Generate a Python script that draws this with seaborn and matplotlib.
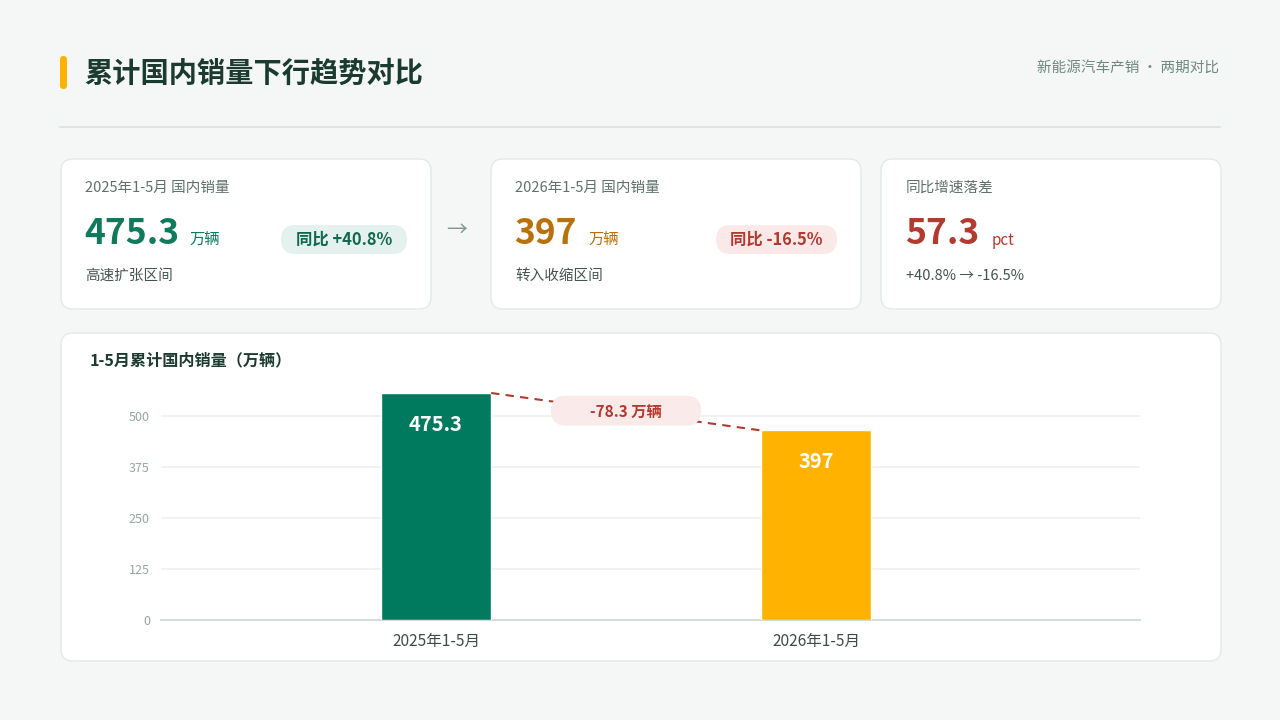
import numpy as np
import pandas as pd
import matplotlib as mpl
import matplotlib.pyplot as plt
import matplotlib.transforms as mtransforms
from matplotlib.patches import FancyBboxPatch
import seaborn as sns

sns.set_theme(style='white')
plt.rcParams['font.family'] = ['Noto Sans CJK SC', 'DejaVu Sans']

# data
periods = ['2025年1-5月', '2026年1-5月']
sales = [475.3, 397]
yoy = [40.8, -16.5]
y_ticks = [0, 125, 250, 375, 500]
bar_colors = ['#007a5e', '#ffb300']

bg_color = '#f5f7f6'
dark = '#1b3b31'
green = '#0f7a5c'
orange = '#b8720c'
red = '#b23a2f'

fig = plt.figure(figsize=(12.8, 7.2), dpi=100)
fig.patch.set_facecolor(bg_color)

# background canvas in pixel units
bg = fig.add_axes([0, 0, 1, 1], zorder=0)
bg.set_xlim(0, 1280)
bg.set_ylim(720, 0)
bg.axis('off')


def card(x, y, w, h, r=12, fc='white', ec='#e3e9e6', lw=1.0):
    bg.add_patch(FancyBboxPatch((x, y), w, h, boxstyle=f'round,pad=0,rounding_size={r}',
                                fc=fc, ec=ec, lw=lw))


# header
bg.add_patch(FancyBboxPatch((60, 56), 7, 33, boxstyle='round,pad=0,rounding_size=3.5',
                            fc='#ffb300', ec='none'))
bg.text(84, 74, '累计国内销量下行趋势对比', fontsize=20.3, fontweight='bold', color=dark,
        va='center', ha='left')
bg.text(1219, 68, '新能源汽车产销 · 两期对比', fontsize=10.5, color='#6f8880',
        va='center', ha='right')
bg.plot([60, 1220], [127, 127], color='#dde4e1', lw=1.5)

# KPI cards
card(61, 159, 370, 150)
card(491, 159, 370, 150)
card(881, 159, 340, 150)
bg.text(457, 230, '→', fontsize=15, color='#7f958d', ha='center', va='center')

label_c = '#5f716a'
note_c = '#44544e'

bg.text(85, 188, f'{periods[0]} 国内销量', fontsize=10.5, color=label_c, va='center')
bg.text(84, 244, f'{sales[0]:g}', fontsize=25.5, fontweight='bold', color=green, va='baseline')
bg.text(189, 245, '万辆', fontsize=11, color=green, va='baseline')
bg.add_patch(FancyBboxPatch((281, 225), 126, 29, boxstyle='round,pad=0,rounding_size=14.5',
                            fc='#e4f1ec', ec='none'))
bg.text(344, 239.5, f'同比 {yoy[0]:+.1f}%', fontsize=11.8, fontweight='bold', color='#10694f',
        ha='center', va='center')
bg.text(85, 276, '高速扩张区间', fontsize=10.5, color=note_c, va='center')

bg.text(515, 188, f'{periods[1]} 国内销量', fontsize=10.5, color=label_c, va='center')
bg.text(514, 244, f'{sales[1]:g}', fontsize=25.5, fontweight='bold', color=orange, va='baseline')
bg.text(588, 245, '万辆', fontsize=11, color=orange, va='baseline')
bg.add_patch(FancyBboxPatch((716, 225), 121, 29, boxstyle='round,pad=0,rounding_size=14.5',
                            fc='#fbe8e8', ec='none'))
bg.text(776.5, 239.5, f'同比 {yoy[1]:+.1f}%', fontsize=11.8, fontweight='bold', color=red,
        ha='center', va='center')
bg.text(515, 276, '转入收缩区间', fontsize=10.5, color=note_c, va='center')

gap = yoy[0] - yoy[1]
bg.text(906, 188, '同比增速落差', fontsize=10.5, color=label_c, va='center')
bg.text(905, 244, f'{gap:.1f}', fontsize=25.5, fontweight='bold', color=red, va='baseline')
bg.text(992, 245, 'pct', fontsize=11, color=red, va='baseline')
bg.text(906, 276, f'{yoy[0]:+.1f}% → {yoy[1]:+.1f}%', fontsize=10.5, color=note_c, va='center')

# chart card
card(61, 333, 1160, 328)
bg.text(90, 360, '1-5月累计国内销量（万辆）', fontsize=11.6, fontweight='bold', color=dark,
        va='center')

# chart axes (ticks) and bar axes
ax = fig.add_axes([161 / 1280, 100 / 720, 979 / 1280, 227 / 720], zorder=1)
ax.patch.set_alpha(0)
ax.set_ylim(0, 557.5)
ax.set_yticks(y_ticks)
ax.set_yticklabels([str(t) for t in y_ticks])
ax.tick_params(axis='y', length=0, pad=8, labelsize=9, labelcolor='#93a69f')
ax.yaxis.grid(True, color='#eef1f0', lw=1.2)
ax.set_axisbelow(True)
for s in ['top', 'right', 'left']:
    ax.spines[s].set_visible(False)
ax.spines['bottom'].set_color('#d3ddd9')
ax.spines['bottom'].set_linewidth(1.5)

ax2 = ax.twinx()
ax2.patch.set_alpha(0)
df = pd.DataFrame({'period': periods, 'sales': sales})
sns.barplot(data=df, x='period', y='sales', hue='period', palette=bar_colors,
            width=0.29, saturation=1, legend=False, ax=ax2)
ax2.set_ylim(0, max(sales))
ax2.set_xlim(-0.724, 1.853)
ax.set_xlim(-0.724, 1.853)
ax2.set_yticks([])
ax2.set_ylabel('')
ax2.set_xlabel('')
for s in ax2.spines.values():
    s.set_visible(False)

ax.set_xticks(range(len(periods)))
ax.set_xticklabels(periods)
ax.tick_params(axis='x', length=0, pad=9, labelsize=11.2, labelcolor='#3d4c47')
ax2.tick_params(axis='x', length=0, labelbottom=False)

for i, v in enumerate(sales):
    ax2.annotate(f'{v:g}', (i, v), xytext=(0, -22.5), textcoords='offset points',
                 ha='center', va='center', fontsize=14.5, fontweight='bold', color='white')

# dashed connector and delta pill
hw = 0.29 / 2
ax2.plot([0 + hw, 1 - hw], [sales[0], sales[1]], color=red, lw=1.5, ls=(0, (4, 3)),
         clip_on=False)
mid = (sales[0] + sales[1]) / 2
trans = fig.dpi_scale_trans + mtransforms.ScaledTranslation(0.5, mid, ax2.transData)
ax2.add_patch(FancyBboxPatch((-0.75, -0.14), 1.5, 0.30,
                             boxstyle='round,pad=0,rounding_size=0.15',
                             fc='#fbeaea', ec='none', transform=trans, clip_on=False, zorder=5))
ax2.text(0.5, mid, f'{sales[1] - sales[0]:.1f} 万辆', fontsize=11, fontweight='bold', color=red,
         ha='center', va='center', zorder=6)

fig.savefig('out.png', dpi=100, facecolor=bg_color)
